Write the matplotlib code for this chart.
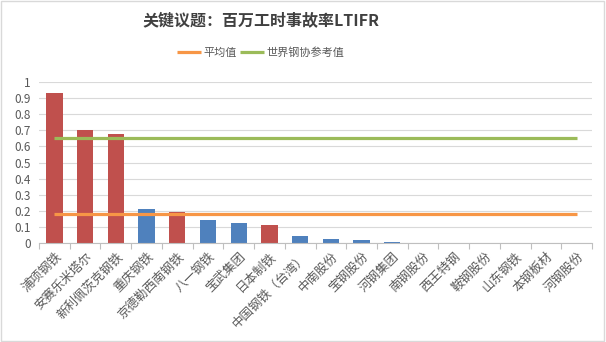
import matplotlib
matplotlib.use("Agg")
import matplotlib.pyplot as plt
from matplotlib.patches import Rectangle

plt.rcParams['font.family'] = ['Noto Sans CJK SC', 'DejaVu Sans']

companies = ["浦项钢铁", "安赛乐米塔尔", "新利佩茨克钢铁", "重庆钢铁", "京德勒西南钢铁",
             "八一钢铁", "宝武集团", "日本制铁", "中国钢铁（台湾）", "中南股份",
             "宝钢股份", "河钢集团", "南钢股份", "西王特钢", "鞍钢股份",
             "山东钢铁", "本钢板材", "河钢股份"]
ltifr = [0.93, 0.70, 0.68, 0.21, 0.19, 0.14, 0.125, 0.11, 0.045, 0.025,
         0.02, 0.005, 0, 0, 0, 0, 0, 0]
foreign = [1, 1, 1, 0, 1, 0, 0, 1, 0, 0, 0, 0, 0, 0, 0, 0, 0, 0]
avg_value = 0.18
wsa_value = 0.65

red = "#C0504D"
blue = "#4F81BD"
txt = "#595959"

fig = plt.figure(figsize=(6.06, 3.42), dpi=100)
ax = fig.add_axes([0.0644, 0.2895, 0.9126, 0.4705])

x = list(range(len(companies)))
colors = [red if f else blue for f in foreign]
ax.bar(x, ltifr, width=0.53, color=colors, zorder=2)

ax.plot([x[0], x[-1]], [avg_value, avg_value], color="#F79646", lw=2.3,
        label="平均值", zorder=3, solid_capstyle="butt")
ax.plot([x[0], x[-1]], [wsa_value, wsa_value], color="#9BBB59", lw=2.3,
        label="世界钢协参考值", zorder=3, solid_capstyle="butt")

ax.set_xlim(-0.5, len(companies) - 0.5)
ax.set_ylim(0, 1)
ax.set_yticks([i / 10 for i in range(11)])
ax.set_yticklabels(["0"] + [f"{i/10:.1f}" for i in range(1, 10)] + ["1"])
ax.yaxis.grid(True, color="#D9D9D9", lw=0.8, zorder=0)
ax.tick_params(axis="y", length=0, labelsize=8.5, labelcolor=txt, pad=6)

ax.set_xticks(x)
ax.set_xticklabels(companies, rotation=45, ha="right", va="top",
                   rotation_mode="anchor", fontsize=9, color=txt)
ax.tick_params(axis="x", length=0, pad=5)
ax.set_xticks([i - 0.5 for i in range(len(companies) + 1)], minor=True)
ax.tick_params(axis="x", which="minor", length=4, color="#BFBFBF", width=0.8)

for s in ["top", "right", "left"]:
    ax.spines[s].set_visible(False)
ax.spines["bottom"].set_color("#BFBFBF")
ax.spines["bottom"].set_linewidth(0.8)

fig.text(0.431, 0.938, "关键议题：百万工时事故率LTIFR", ha="center", va="center",
         fontsize=11.5, fontweight="bold", color="#404040")
fig.legend(loc="center", bbox_to_anchor=(0.43, 0.845), ncol=2, frameon=False,
           fontsize=8, handlelength=2.2, handletextpad=0.2, columnspacing=0.3,
           labelcolor=txt)

fig.add_artist(Rectangle((0.002, 0.003), 0.995, 0.994, transform=fig.transFigure,
                         fill=False, edgecolor="#D9D9D9", lw=1))

fig.savefig("out.png", dpi=100)
